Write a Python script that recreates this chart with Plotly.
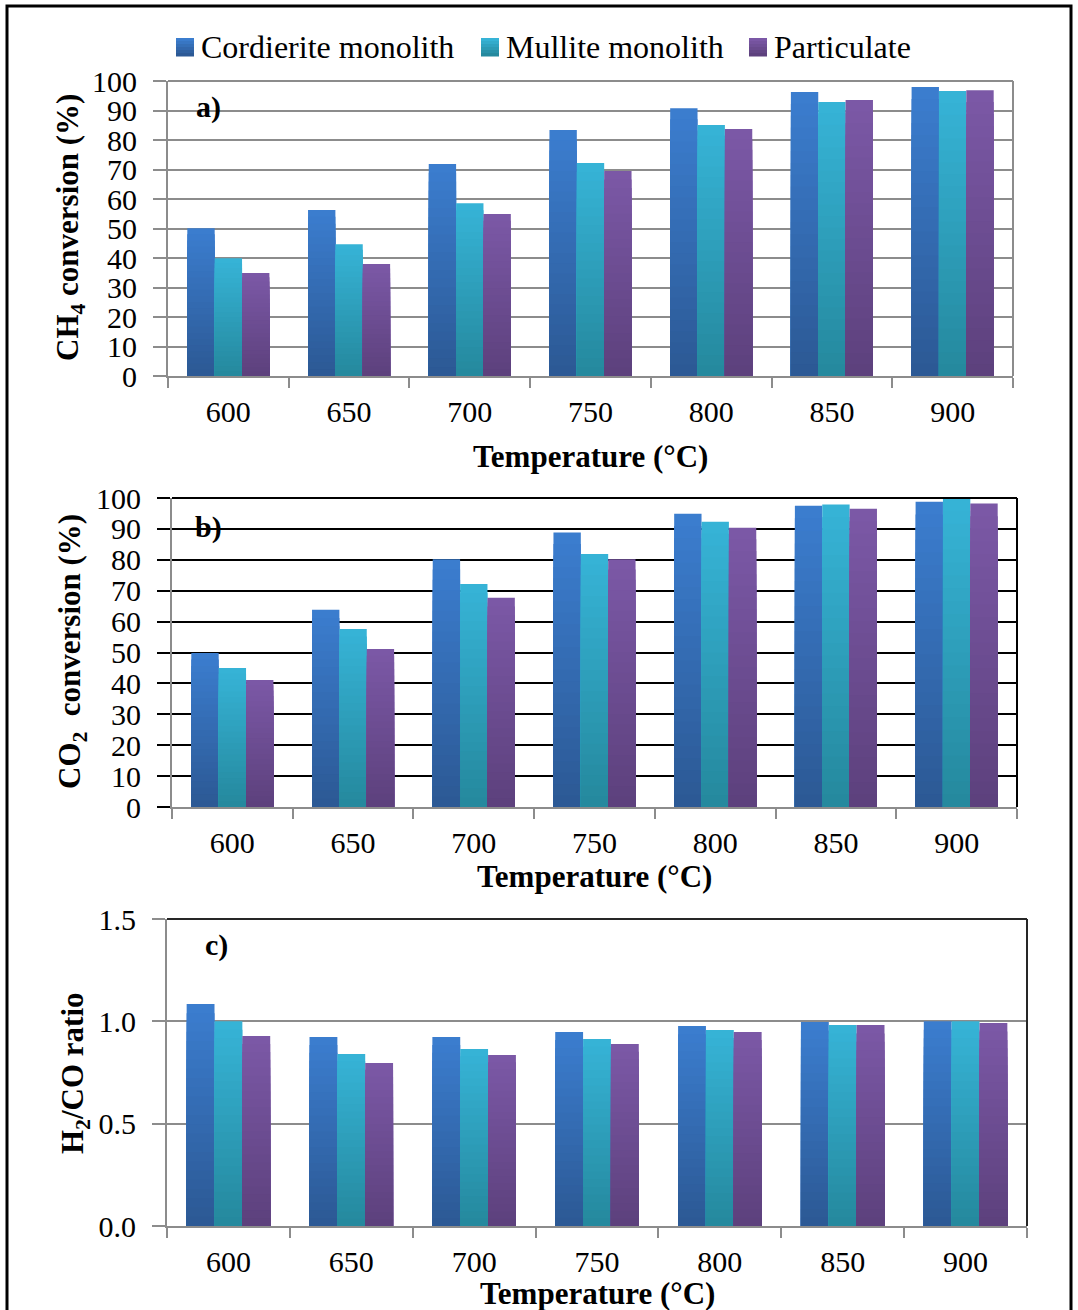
import plotly.graph_objects as go

# ---- data -------------------------------------------------------------
temps = ["600", "650", "700", "750", "800", "850", "900"]
series_names = ["Cordierite monolith", "Mullite monolith", "Particulate"]

ch4_cordierite = [50.1, 56.3, 71.9, 83.4, 90.8, 96.3, 98.0]
ch4_mullite = [39.9, 44.7, 58.6, 72.2, 85.1, 92.9, 96.6]
ch4_particulate = [34.9, 38.0, 54.9, 69.5, 83.7, 93.6, 96.9]

co2_cordierite = [49.8, 63.8, 80.2, 88.8, 94.9, 97.5, 98.8]
co2_mullite = [45.0, 57.6, 72.2, 81.9, 92.3, 97.9, 100.0]
co2_particulate = [41.1, 51.1, 67.7, 80.2, 90.4, 96.5, 98.2]

h2co_cordierite = [1.085, 0.923, 0.923, 0.948, 0.977, 0.997, 1.001]
h2co_mullite = [1.001, 0.840, 0.865, 0.914, 0.958, 0.982, 1.001]
h2co_particulate = [0.928, 0.796, 0.835, 0.889, 0.948, 0.982, 0.992]

# top (light) and bottom (dark) colours of each series' vertical gradient
gradients = [("#3B7DCE", "#2C5995"), ("#36B3D6", "#25899E"), ("#7B58A6", "#5D417D")]

W, H = 1078, 1310
FONT = "Liberation Serif, Times New Roman, serif"
GRAY = "#8C8C8C"


def px(x):
    return x / W


def py(y):
    return 1 - y / H


def hex2rgb(h):
    h = h.lstrip("#")
    return tuple(int(h[i:i + 2], 16) for i in (0, 2, 4))


def mix(c1, c2, t):
    a, b = hex2rgb(c1), hex2rgb(c2)
    return "rgb(%d,%d,%d)" % tuple(round(a[i] + (b[i] - a[i]) * t) for i in range(3))


def text(t, x, y, size, angle=0, xanchor="center"):
    return dict(text=t, x=px(x), y=py(y), xref="paper", yref="paper",
                xanchor=xanchor, yanchor="middle", textangle=angle, showarrow=False,
                font=dict(family=FONT, size=size, color="black"))


panels = [
    dict(ax="", vals=[ch4_cordierite, ch4_mullite, ch4_particulate],
         x0=168, x1=1013, top=81, bot=376, yr=[0, 100], dtick=10, fmt="d",
         grid=GRAY, frame=GRAY, ytick=GRAY, label="a)", lab_xy=(208, 107),
         ytitle="CH<sub>4</sub> conversion (%)", yt_xy=(70, 228), xt_y=456),
    dict(ax="2", vals=[co2_cordierite, co2_mullite, co2_particulate],
         x0=172, x1=1017, top=498, bot=807, yr=[0, 100], dtick=10, fmt="d",
         grid="#000000", frame="#000000", ytick="#000000", label="b)", lab_xy=(208, 527),
         ytitle="CO<sub>2</sub>  conversion (%)", yt_xy=(72, 652), xt_y=876),
    dict(ax="3", vals=[h2co_cordierite, h2co_mullite, h2co_particulate],
         x0=167, x1=1027, top=919, bot=1226, yr=[0, 1.5], dtick=0.5, fmt=".1f",
         grid=GRAY, frame="#262626", ytick=GRAY, label="c)", lab_xy=(216, 945),
         ytitle="H<sub>2</sub>/CO ratio", yt_xy=(75, 1073), xt_y=1293),
]

fig = go.Figure()
shapes, annotations = [], []
N = 24  # gradient steps per bar

for p in panels:
    xa, ya = "x" + p["ax"], "y" + p["ax"]
    for s, (name, vals) in enumerate(zip(series_names, p["vals"])):
        top_c, bot_c = gradients[s]
        # layered bars: each later layer is shorter and darker, giving a vertical gradient
        for k in range(N):
            frac = 1 - k / N
            fig.add_trace(go.Bar(
                x=temps, y=[v * frac for v in vals], name=name,
                xaxis=xa, yaxis=ya, offsetgroup=f"{p['ax']}-{s}",
                marker=dict(color=mix(top_c, bot_c, k / (N - 1)), line=dict(width=0)),
                showlegend=False, hoverinfo="skip" if k else "y",
            ))

    xkey = "xaxis" + p["ax"]
    ykey = "yaxis" + p["ax"]
    fig.update_layout({
        xkey: dict(domain=[px(p["x0"]), px(p["x1"])], anchor=ya, type="category",
                   tickson="boundaries", ticks="outside", ticklen=10, tickwidth=2,
                   tickcolor=GRAY, showline=True, linecolor=GRAY, linewidth=2,
                   showgrid=False, tickfont=dict(family=FONT, size=30, color="black"),
                   ticklabelstandoff=8, automargin=False),
        ykey: dict(domain=[py(p["bot"]), py(p["top"])], anchor=xa, range=p["yr"],
                   dtick=p["dtick"], tick0=0, tickformat=p["fmt"], ticks="outside",
                   ticklen=13, tickwidth=2, tickcolor=p["ytick"], showline=True,
                   linecolor=GRAY, linewidth=2, showgrid=True, gridcolor=p["grid"],
                   gridwidth=2, zeroline=False,
                   tickfont=dict(family=FONT, size=30, color="black"),
                   ticklabelstandoff=10, automargin=False),
    })

    # top and right frame of the plot area
    shapes.append(dict(type="line", xref=xa + " domain", yref=ya + " domain",
                       x0=0, x1=1, y0=1, y1=1, line=dict(color=p["frame"], width=2)))
    shapes.append(dict(type="line", xref=xa + " domain", yref=ya + " domain",
                       x0=1, x1=1, y0=0, y1=1, line=dict(color=p["frame"], width=2)))

    annotations.append(text("<b>%s</b>" % p["label"], *p["lab_xy"], 30))
    annotations.append(text("<b>%s</b>" % p["ytitle"], *p["yt_xy"], 31, angle=-90))
    annotations.append(text("<b>Temperature (°C)</b>", (p["x0"] + p["x1"]) / 2, p["xt_y"], 31))

# legend row
legend_x = [176, 481, 749]
for s, name in enumerate(series_names):
    top_c, bot_c = gradients[s]
    steps = 6
    for k in range(steps):
        y0 = 38 + 18 * k / steps
        shapes.append(dict(type="rect", xref="paper", yref="paper",
                           x0=px(legend_x[s]), x1=px(legend_x[s] + 18),
                           y0=py(y0), y1=py(y0 + 18 / steps + 0.5),
                           fillcolor=mix(top_c, bot_c, k / (steps - 1)), line=dict(width=0)))
    annotations.append(text(name, legend_x[s] + 23, 47, 32, xanchor="left"))

# outer frame
shapes.append(dict(type="rect", xref="paper", yref="paper", x0=px(7), x1=px(1071),
                   y0=py(1330), y1=py(6), line=dict(color="black", width=3),
                   fillcolor="rgba(0,0,0,0)"))

fig.update_layout(
    width=W, height=H, margin=dict(l=0, r=0, t=0, b=0, autoexpand=False),
    paper_bgcolor="white", plot_bgcolor="rgba(0,0,0,0)",
    barmode="group", bargap=0.32, bargroupgap=0,
    showlegend=False, shapes=shapes, annotations=annotations,
    font=dict(family=FONT, color="black"),
)

fig.write_html("out.html")
